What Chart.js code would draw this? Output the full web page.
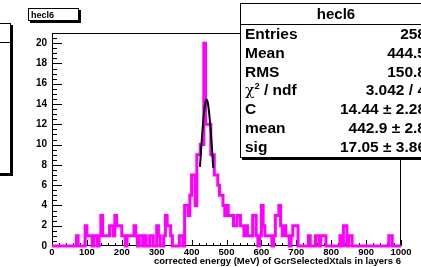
<!DOCTYPE html>
<html>
<head>
<meta charset="utf-8">
<script src="https://cdn.jsdelivr.net/npm/chart.js@4"></script>
<style>
  html, body { margin: 0; padding: 0; background: #fff; }
  #wrap { position: relative; width: 421px; height: 267px; overflow: hidden;
          font-family: "Liberation Sans", Arial, Helvetica, sans-serif; font-weight: bold; }
  #c { position: absolute; left: 0; top: 0; }
  .box { position: absolute; background: #fff; border: 1px solid #000; box-shadow: 2px 2px 0 #000; }
  #leftBox { left: -60px; top: 23px; width: 69px; height: 149px; }
  #leftBox .bar { position: absolute; left: 0; right: 0; top: 18px; border-top: 1px solid #000; }
  #titleBox { left: 28px; top: 8px; height: 13px; font-size: 9px; line-height: 13px; padding-left: 2px; box-sizing: border-box; width: 51px; }
  #stats { left: 240px; top: 3px; width: 190px; height: 153px; }
  #stats .head { height: 20px; line-height: 20px; text-align: center; font-size: 15px;
                 border-bottom: 1px solid #000; }
  #stats .row { display: flex; justify-content: space-between; height: 18.8px; line-height: 18.8px;
                font-size: 15.5px; padding: 0 5px 0 4px; }
  .chi { font-family: "DejaVu Serif", "Liberation Serif", serif; font-weight: normal; }
  sup { font-size: 0.6em; line-height: 0; }
</style>
</head>
<body>
<div id="wrap">
  <canvas id="c" width="421" height="267"></canvas>
  <div class="box" id="leftBox"><div class="bar"></div></div>
  <div class="box" id="titleBox">hecl6</div>
  <div class="box" id="stats"></div>
</div>
<script>
// histogram hecl6: 200 bins of 5 MeV from 0 to 1000
const binWidth = 5;
const xMin = 0, xMax = 1000;
const counts = [
  0, 0, 0, 0, 0, 0, 0, 0, 0, 0,      // 0-45
  0, 0, 0, 0, 1, 0, 0, 0, 0, 2,      // 50-95
  1, 1, 1, 0, 1, 1, 0, 1, 3, 1,      // 100-145
  1, 1, 1, 2, 2, 1, 3, 2, 2, 2,      // 150-195
  1, 1, 0, 1, 1, 1, 1, 2, 1, 0,      // 200-245
  1, 1, 0, 1, 0, 0, 1, 1, 0, 0,      // 250-295
  2, 1, 0, 0, 1, 3, 2, 2, 1, 0,      // 300-345
  0, 0, 0, 1, 1, 0, 4, 4, 3, 5,      // 350-395
  7, 7, 4, 9, 9, 10, 10, 20, 12, 12, // 400-445
  12, 9, 9, 7, 7, 6, 5, 5, 4, 3,     // 450-495
  4, 3, 3, 3, 2, 2, 3, 3, 2, 2,      // 500-545
  1, 2, 1, 1, 1, 3, 3, 1, 0, 1,      // 550-595
  4, 2, 1, 1, 1, 1, 0, 1, 3, 3,      // 600-645
  4, 2, 1, 2, 1, 1, 0, 1, 2, 2,      // 650-695
  2, 0, 0, 0, 0, 0, 0, 1, 0, 0,      // 700-745
  0, 1, 1, 0, 1, 1, 1, 0, 0, 0,      // 750-795
  0, 0, 0, 0, 0, 1, 0, 2, 2, 0,      // 800-845
  1, 1, 0, 0, 0, 0, 0, 0, 0, 0,      // 850-895
  0, 0, 0, 0, 0, 0, 0, 0, 0, 0,      // 900-945
  0, 0, 0, 1, 1, 0, 0, 0, 0, 0       // 950-995
];

// gaussian fit curve (fit range ~424-462)
const fitX = [424, 428, 432, 436, 440, 443, 446, 450, 454, 458, 462];
const fitY = [7.8, 9.9, 11.8, 13.3, 14.2, 14.44, 14.2, 13.2, 11.7, 9.8, 7.7];

const yMax = 21;
const xTitle = "corrected energy (MeV) of GcrSelectedXtals in layers 6";
const histName = "hecl6";
const statLabels = ["Entries", "Mean", "RMS", "CHI", "C", "mean", "sig"];
const statValues = ["258", "444.5", "150.8", "3.042 / 4", "14.44 \u00b1 2.28", "442.9 \u00b1 2.8", "17.05 \u00b1 3.86"];

// stats box
const stats = document.getElementById("stats");
stats.innerHTML = `<div class="head">${histName}</div>` + statLabels
  .map((l, i) => {
    const label = l === "CHI" ? `<span class="chi">\u03c7</span><sup>2</sup> / ndf` : l;
    return `<div class="row"><span>${label}</span><span>${statValues[i]}</span></div>`;
  })
  .join("");

const histPoints = counts.map((c, i) => ({ x: xMin + i * binWidth, y: c }));
histPoints.push({ x: xMax, y: 0 });

// ROOT style frame with ticks pointing inside
const rootFrame = {
  id: "rootFrame",
  beforeDatasetsDraw(chart) {
    const { ctx, chartArea: a, scales: { x, y } } = chart;
    ctx.save();
    ctx.strokeStyle = "#000";
    ctx.lineWidth = 1;
    ctx.strokeRect(a.left + 0.5, a.top + 0.5, a.right - a.left - 1, a.bottom - a.top - 1);
    ctx.beginPath();
    for (let v = xMin; v <= xMax; v += 20) {
      const px = Math.round(x.getPixelForValue(v)) + 0.5;
      const len = v % 100 === 0 ? 6 : 3;
      ctx.moveTo(px, a.bottom);
      ctx.lineTo(px, a.bottom - len);
    }
    for (let v = 0; v <= yMax; v += 0.5) {
      const py = Math.round(y.getPixelForValue(v)) + 0.5;
      const len = v % 2 === 0 ? 10 : 5;
      ctx.moveTo(a.left, py);
      ctx.lineTo(a.left + len, py);
    }
    ctx.stroke();
    ctx.restore();
  }
};

const boldFont = (size) => ({ family: "'Liberation Sans', Arial, sans-serif", size, weight: "bold" });

new Chart(document.getElementById("c"), {
  type: "line",
  data: {
    datasets: [
      {
        data: fitX.map((v, i) => ({ x: v, y: fitY[i] })),
        borderColor: "#000",
        borderWidth: 2,
        pointRadius: 0,
        cubicInterpolationMode: "monotone",
        fill: false,
        order: 1
      },
      {
        data: histPoints,
        stepped: "before",
        borderColor: "#ff00ff",
        borderWidth: 3,
        pointRadius: 0,
        fill: false,
        clip: 4,
        order: 2
      }
    ]
  },
  options: {
    responsive: false,
    animation: false,
    devicePixelRatio: 1,
    layout: { padding: { left: 0, right: 20, top: 33, bottom: 0 } },
    plugins: { legend: { display: false }, tooltip: { enabled: false } },
    scales: {
      x: {
        type: "linear",
        min: xMin,
        max: xMax,
        afterFit: (s) => { s.height = 21; },
        grid: { display: false, drawTicks: false },
        border: { display: false },
        ticks: { stepSize: 100, color: "#000", font: boldFont(9.5), padding: 1, maxRotation: 0, autoSkip: false,
                 callback: (v) => String(v) },
        title: { display: true, text: xTitle, align: "end", color: "#000", font: boldFont(9.5), padding: 0 }
      },
      y: {
        min: 0,
        max: yMax,
        afterFit: (s) => { s.width = 52; },
        grid: { display: false, drawTicks: false },
        border: { display: false },
        ticks: { stepSize: 2, includeBounds: false, color: "#000", font: boldFont(10), padding: 5 }
      }
    }
  },
  plugins: [rootFrame]
});
</script>
</body>
</html>
